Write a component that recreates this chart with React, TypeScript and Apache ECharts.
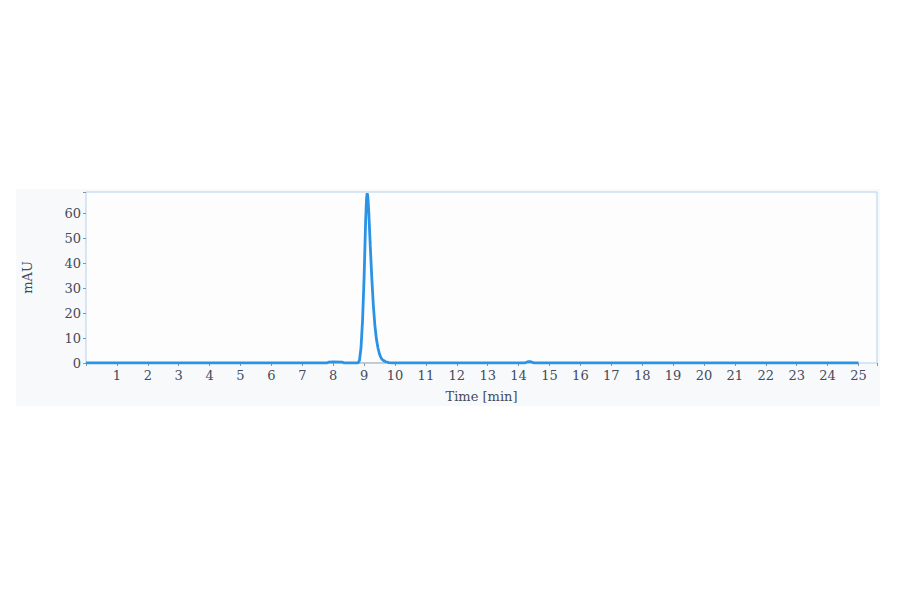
import React, { useEffect, useRef } from 'react';
import * as echarts from 'echarts';

// chromatogram trace
const times: number[] = [
  0, 7.8, 7.85, 8.0, 8.3, 8.35, 8.8, 8.85, 8.9, 8.95, 9.0, 9.05, 9.08, 9.1, 9.12,
  9.15, 9.2, 9.25, 9.3, 9.35, 9.4, 9.45, 9.5, 9.55, 9.6, 9.7, 9.8, 9.9,
  14.2, 14.3, 14.4, 14.5, 25,
];
const absorbance: number[] = [
  0, 0, 0.35, 0.4, 0.35, 0, 0, 1, 6, 17, 34, 57, 66, 68, 67,
  61, 47, 34, 23, 15, 9.5, 6, 3.5, 2, 1.2, 0.5, 0.15, 0,
  0, 0.5, 0.5, 0, 0,
];
const baselineStart = 8.8;
const baselineEnd = 9.7;

const textColor = '#434b5c';
const fontFamily = '"DejaVu Serif", serif';

const App: React.FC = () => {
  const chartRef = useRef<HTMLDivElement>(null);

  useEffect(() => {
    if (!chartRef.current) return;
    const chart = echarts.init(chartRef.current, null, { renderer: 'svg' });

    const trace = times.map((t, i) => [t, absorbance[i]]);

    chart.setOption({
      animation: false,
      backgroundColor: '#ffffff',
      graphic: [
        {
          type: 'rect',
          z: -10,
          silent: true,
          shape: { x: 16, y: 189, width: 864, height: 217 },
          style: { fill: '#f8f9fb' },
        },
      ],
      grid: {
        left: 86,
        right: 23,
        top: 192,
        bottom: 231,
        show: true,
        backgroundColor: '#fdfdfe',
        borderColor: '#b3d0ee',
        borderWidth: 1,
      },
      xAxis: {
        type: 'value',
        min: 0,
        max: 25.6,
        interval: 1,
        name: 'Time [min]',
        nameLocation: 'middle',
        nameGap: 27,
        nameTextStyle: { color: textColor, fontSize: 13, fontFamily },
        axisLine: { show: false },
        axisTick: { show: true, length: 3, lineStyle: { color: '#8a93a3' } },
        axisLabel: {
          color: textColor,
          fontSize: 13,
          fontFamily,
          margin: 6,
          formatter: (v: number) => (v > 0 && v <= 25 && Number.isInteger(v) ? String(v) : ''),
        },
        splitLine: { show: false },
      },
      yAxis: {
        type: 'value',
        min: 0,
        max: 68.5,
        interval: 10,
        name: 'mAU',
        nameLocation: 'middle',
        nameGap: 52,
        nameTextStyle: { color: textColor, fontSize: 13, fontFamily },
        axisLine: { show: false },
        axisTick: { show: true, length: 3, lineStyle: { color: '#8a93a3' } },
        axisLabel: {
          color: textColor,
          fontSize: 13,
          fontFamily,
          margin: 5,
          formatter: (v: number) => (v % 10 === 0 ? String(v) : ''),
        },
        splitLine: { show: false },
      },
      series: [
        {
          type: 'line',
          data: [[baselineStart, 0], [baselineEnd, 0]],
          showSymbol: false,
          lineStyle: { color: '#b9bec6', width: 1.5 },
          silent: true,
        },
        {
          type: 'line',
          data: trace,
          showSymbol: false,
          lineStyle: { color: '#2b93e6', width: 2.8 },
          silent: true,
        },
      ],
    });

    return () => {
      chart.dispose();
    };
  }, []);

  return (
    <div
      ref={chartRef}
      style={{ position: 'fixed', left: 0, top: 0, width: '900px', height: '594px' }}
    />
  );
};

export default App;
